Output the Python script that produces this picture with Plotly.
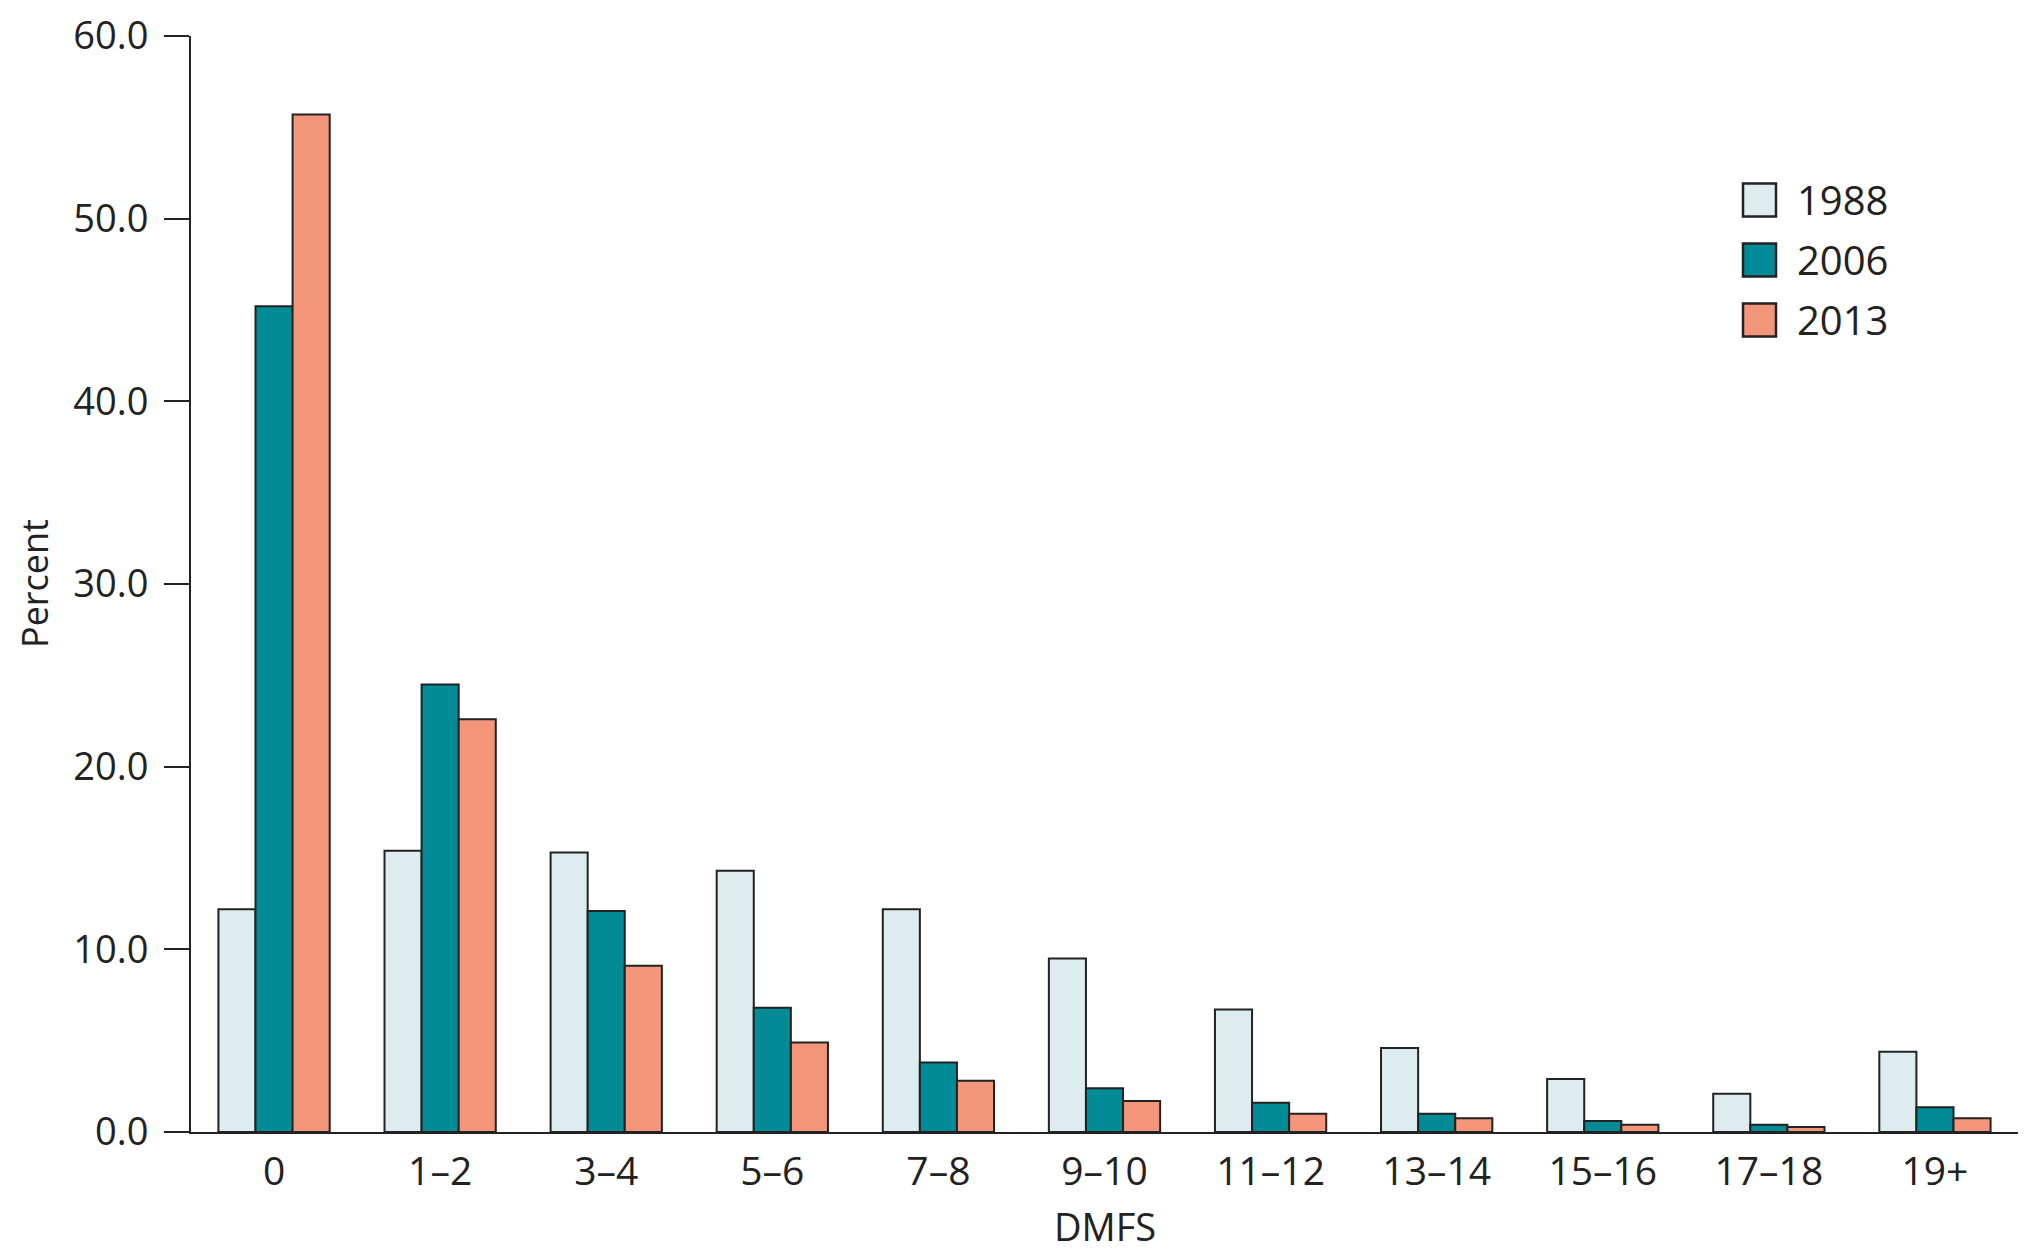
import plotly.graph_objects as go

# DMFS distribution by survey year
categories = ['0', '1–2', '3–4', '5–6', '7–8', '9–10', '11–12', '13–14', '15–16', '17–18', '19+']
pct_1988 = [12.2, 15.4, 15.3, 14.3, 12.2, 9.5, 6.7, 4.6, 2.9, 2.1, 4.4]
pct_2006 = [45.2, 24.5, 12.1, 6.8, 3.8, 2.4, 1.6, 1.0, 0.6, 0.4, 1.35]
pct_2013 = [55.7, 22.6, 9.1, 4.9, 2.8, 1.7, 1.0, 0.75, 0.4, 0.27, 0.75]
years = ['1988', '2006', '2013']
y_ticks = [0, 10, 20, 30, 40, 50, 60]

year_colors = {
    '1988': '#ddecef',
    '2006': '#008b96',
    '2013': '#f4967a'
}
ink = '#222222'
font_family = 'Open Sans, Noto Sans, sans-serif'

fig = go.Figure()
for year, values in zip(years, [pct_1988, pct_2006, pct_2013]):
    fig.add_trace(go.Bar(
        x=categories,
        y=values,
        name=year,
        marker=dict(color=year_colors[year], line=dict(color=ink, width=2)),
        showlegend=False
    ))

# page body has an 8px margin, so the figure is a bit smaller than the window
W, H = 2010, 1244
m_l, m_r, m_t, m_b = 183, 0, 28, 120
pw, ph = W - m_l - m_r, H - m_t - m_b
off = 8


def px_x(v):
    return (v - off - m_l) / pw


def px_y(v):
    return 1 - (v - off - m_t) / ph


# legend drawn as big squares + labels (plotly's own bar swatches are tiny)
for i, year in enumerate(years):
    cy = 200 + i * 60
    fig.add_shape(type='rect', xref='paper', yref='paper',
                  x0=px_x(1743), x1=px_x(1776), y0=px_y(cy + 16.5), y1=px_y(cy - 16.5),
                  fillcolor=year_colors[year], line=dict(color=ink, width=2.5))
    fig.add_annotation(xref='paper', yref='paper', x=px_x(1795), y=px_y(cy),
                       text=year, showarrow=False, xanchor='left', yanchor='middle',
                       font=dict(size=40, color=ink, family=font_family))

# axis titles placed as annotations (standoff is clamped when automargin is off)
fig.add_annotation(xref='paper', yref='paper', x=0.5, y=px_y(1226),
                   text='DMFS', showarrow=False, xanchor='center', yanchor='middle',
                   font=dict(size=38, color=ink, family=font_family))
fig.add_annotation(xref='paper', yref='paper', x=px_x(34), y=0.5, textangle=-90,
                   text='Percent', showarrow=False, xanchor='center', yanchor='middle',
                   font=dict(size=36, color=ink, family=font_family))

fig.update_layout(
    width=W,
    height=H,
    margin=dict(l=m_l, r=m_r, t=m_t, b=m_b),
    plot_bgcolor='white',
    paper_bgcolor='white',
    bargap=0.33,
    bargroupgap=0,
    font=dict(family=font_family, size=38, color=ink)
)
fig.update_xaxes(
    showline=True, linecolor=ink, linewidth=2,
    ticks='', showgrid=False, zeroline=False,
    tickfont=dict(size=39),
    range=[-0.5, 10.5],
    ticklabelstandoff=4,
    automargin=False
)
fig.update_yaxes(
    range=[0, 60],
    tickvals=y_ticks,
    tickformat='.1f',
    ticks='outside', ticklen=25, tickwidth=2, tickcolor=ink,
    showline=True, linecolor=ink, linewidth=2,
    showgrid=False, zeroline=False,
    tickfont=dict(size=38),
    ticklabelstandoff=8,
    ticklabeloverflow='allow',
    automargin=False
)

fig.write_html('out.html')
